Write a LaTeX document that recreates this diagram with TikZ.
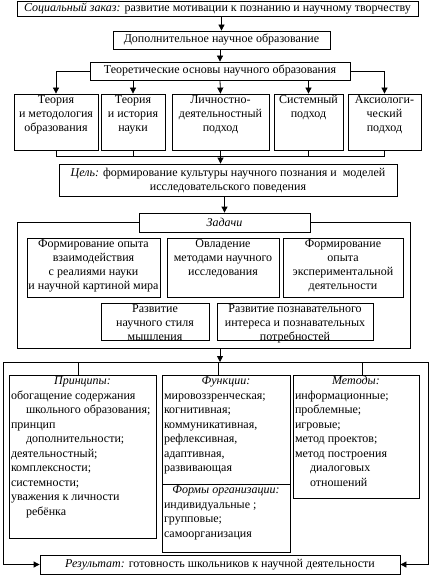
\documentclass[tikz,border=0pt]{standalone}
\usepackage{fontspec}
\setmainfont{Liberation Serif}
\usetikzlibrary{arrows.meta}

% text at the top of a box
\newcommand{\kletka}[3]{\parbox[c][#2][t]{#1}{\centering\strut #3}}
\newcommand{\kletkal}[3]{\parbox[c][#2][t]{#1}{\baselineskip=14.5pt\raggedright\strut #3}}

\begin{document}
\begin{tikzpicture}[x=1pt,y=-1pt,line width=0.8pt,
  font=\fontsize{12}{14}\selectfont,
  blok/.style={draw,inner sep=0pt,align=center},
  strelka/.style={-{Triangle[length=6pt,width=6pt]}}]
\useasboundingbox (0,0) rectangle (434,575);

% verh
\node[blok,minimum width=401pt,minimum height=15pt] (zakaz) at (217.5,8.5)
  {\textit{Социальный заказ:} развитие мотивации к познанию и научному творчеству};
\node[blok,minimum width=217pt,minimum height=18pt] (dop) at (221.5,40)
  {Дополнительное научное образование};
\node[blok,minimum width=260pt,minimum height=18pt] (osnovy) at (220,71)
  {Теоретические основы научного образования};
\draw[strelka] (zakaz.south -| dop.north) -- (dop.north);
\draw[strelka] (dop.south -| osnovy.north) -- (osnovy.north);

% podhody
\node[blok] (t1) at (56,122) {\kletka{84pt}{56pt}{Теория\\и методология\\образования}};
\node[blok] (t2) at (133,122) {\kletka{64pt}{56pt}{Теория\\и история\\науки}};
\node[blok] (t3) at (220.5,122) {\kletka{97pt}{56pt}{Личностно-\\деятельностный\\подход}};
\node[blok] (t4) at (308.5,122) {\kletka{69pt}{56pt}{Системный\\подход}};
\node[blok] (t5) at (384.5,122) {\kletka{73pt}{56pt}{Аксиологи-\\ческий\\подход}};
\draw[strelka] (osnovy.west) -| (t1.north);
\draw[strelka] (osnovy.south -| t2.north) -- (t2.north);
\draw[strelka] (osnovy.south) -- (t3.north);
\draw[strelka] (osnovy.south -| t4.north) -- (t4.north);
\draw[strelka] (osnovy.east) -| (t5.north);

\coordinate (shina) at (0,156);
\draw (t1.south) |- (shina -| t5.south) -- (t5.south);
\draw (t2.south) -- (t2.south |- shina);
\draw (t4.south) -- (t4.south |- shina);

% cel
\node[blok,minimum width=338pt,minimum height=32pt] (cel) at (228,180)
  {\textit{Цель:} формирование культуры научного познания и\ \ моделей\\исследовательского поведения};
\draw[strelka] (t3.south) -- (t3.south |- cel.north);

% zadachi
\node[blok,minimum width=171pt,minimum height=19pt] (zadachi) at (224.5,222.5) {\textit{Задачи}};
\draw[strelka] (cel.south -| zadachi.north) -- (zadachi.north);
\coordinate (ramaLN) at (17,348);
\coordinate (ramaPN) at (410,348);
\draw (zadachi.west) -| (ramaLN) -- (ramaPN) |- (zadachi.east);

\node[blok] (zA) at (93.5,267.5) {\kletka{133pt}{59pt}{Формирование опыта\\взаимодействия\\с реалиями науки\\и научной картиной мира}};
\node[blok] (zB) at (223,267.5) {\kletka{112pt}{59pt}{Овладение\\методами научного\\исследования}};
\node[blok] (zC) at (343,267.5) {\kletka{120pt}{59pt}{Формирование\\опыта\\экспериментальной\\деятельности}};
\node[blok] (zD) at (155,321.5) {\kletka{108pt}{37pt}{Развитие\\научного стиля\\мышления}};
\node[blok] (zE) at (295,321.5) {\kletka{156pt}{37pt}{Развитие познавательного\\интереса и познавательных\\потребностей}};

% niz
\coordinate (ramaS) at (220,348);
\coordinate (shinaL) at (3,362);
\coordinate (shinaP) at (428,362);
\draw[strelka] (ramaS) -- (ramaS |- shinaL);
\draw (shinaL) -- (shinaP);

\node[blok,inner xsep=2pt] (printsipy) at (82.5,456.5) {\kletkal{143pt}{163pt}{%
  \makebox[\linewidth]{\textit{Принципы:}}\\
  обогащение содержания\\
  \hspace*{15pt}школьного образования;\\
  принцип\\
  \hspace*{15pt}дополнительности;\\
  деятельностный;\\
  комплексности;\\
  системности;\\
  уважения к личности\\
  \hspace*{15pt}ребёнка}};
\node[blok,inner xsep=2pt] (funk) at (226,429.5) {\kletkal{124pt}{109pt}{%
  \makebox[\linewidth]{\textit{Функции:}}\\
  мировоззренческая;\\
  когнитивная;\\
  коммуникативная,\\
  рефлексивная,\\
  адаптивная,\\
  развивающая}};
\node[blok,inner xsep=2pt] (formy) at (226,518) {\kletkal{124pt}{68pt}{%
  \makebox[\linewidth]{\textit{Формы организации:}}\\
  индивидуальные ;\\
  групповые;\\
  самоорганизация}};
\node[blok,inner xsep=2pt] (metody) at (356,436.5) {\kletkal{122pt}{123pt}{%
  \makebox[\linewidth]{\textit{Методы:}}\\
  информационные;\\
  проблемные;\\
  игровые;\\
  метод проектов;\\
  метод построения\\
  \hspace*{15pt}диалоговых\\
  \hspace*{15pt}отношений}};

\coordinate (ot1) at (78,362);
\coordinate (ot2) at (218,362);
\coordinate (ot3) at (362,362);
\draw (ot1) -- (ot1 |- printsipy.north);
\draw (ot2) -- (ot2 |- funk.north);
\draw (ot3) -- (ot3 |- metody.north);

% rezultat
\node[blok,minimum width=360pt,minimum height=19pt] (rezultat) at (220,564.5)
  {\textit{Результат:} готовность школьников к научной деятельности};
\draw[strelka] (shinaL) |- (rezultat.west);
\draw[strelka] (shinaP) |- (rezultat.east);
\end{tikzpicture}
\end{document}
